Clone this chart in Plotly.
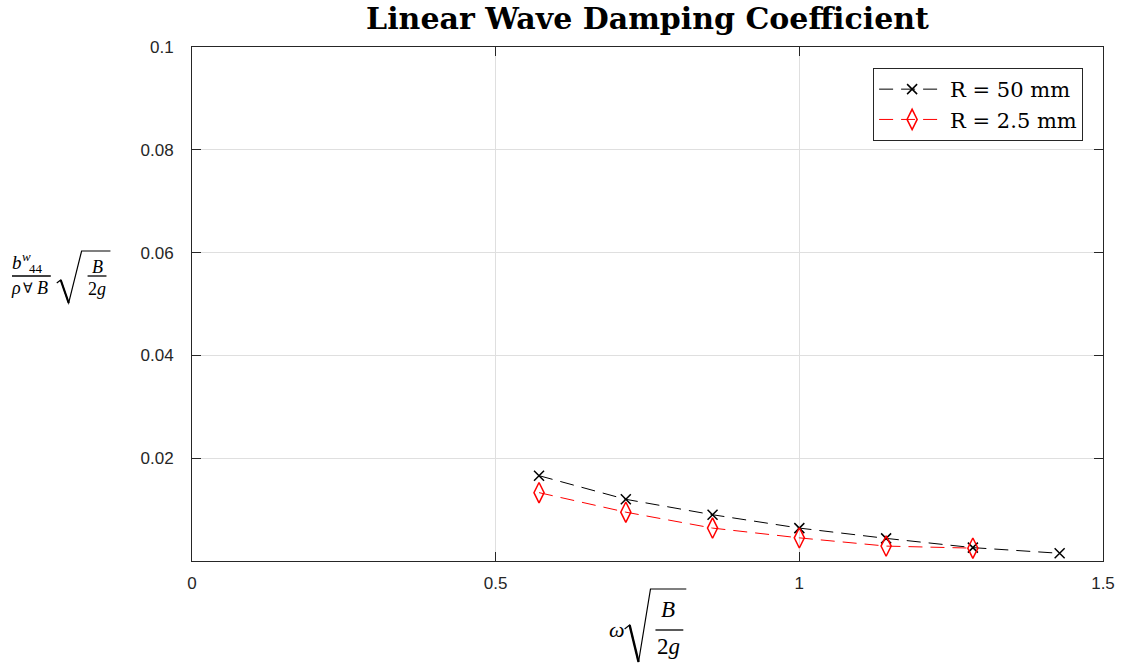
import plotly.graph_objects as go

# Non-dimensional frequency  omega*sqrt(B/2g)
freq_50 = [0.5714, 0.7143, 0.8571, 1.0000, 1.1429, 1.2857, 1.4286]
freq_25 = [0.5714, 0.7143, 0.8571, 1.0000, 1.1429, 1.2857]

# Non-dimensional linear wave damping coefficient
damp_50 = [0.0166, 0.0120, 0.0090, 0.0064, 0.0044, 0.0026, 0.0015]
damp_25 = [0.0133, 0.0095, 0.0064, 0.0045, 0.0029, 0.0025]

x_ticks = [0, 0.5, 1, 1.5]
x_tick_text = ["0", "0.5", "1", "1.5"]
y_ticks = [0.02, 0.04, 0.06, 0.08, 0.1]
y_tick_text = ["0.02", "0.04", "0.06", "0.08", "0.1"]

W, H = 1127, 665
L, R, T, B = 192, 19, 47, 104
PW, PH = W - L - R, H - T - B

AX = "#262626"
GRID = "#dfdfdf"
SERIF = "DejaVu Serif"
MATH = "Liberation Serif"


def px(x):
    return (x - L) / PW


def py(y):
    return (H - B - y) / PH


fig = go.Figure()

fig.add_trace(go.Scatter(
    x=freq_50, y=damp_50, mode="lines+markers", name="R = 50 mm",
    line=dict(color="black", width=1, dash="14px,8px"),
    marker=dict(symbol="x-thin", size=10, color="black",
                line=dict(color="black", width=1.5)),
))
fig.add_trace(go.Scatter(
    x=freq_25, y=damp_25, mode="lines+markers", name="R = 2.5 mm",
    line=dict(color="red", width=1, dash="14px,8px"),
    marker=dict(symbol="diamond-tall-open", size=14.5, color="red",
                line=dict(color="red", width=1.5)),
))

axis_common = dict(
    showline=True, linecolor=AX, linewidth=1, mirror="ticks",
    ticks="inside", ticklen=9, tickcolor=AX, tickwidth=1,
    showgrid=True, gridcolor=GRID, gridwidth=1, zeroline=False,
    tickfont=dict(family="Liberation Sans, Arial", size=17, color=AX),
)

fig.update_xaxes(range=[0, 1.5], tickvals=x_ticks, ticktext=x_tick_text,
                 ticklabelstandoff=7, **axis_common)
fig.update_yaxes(range=[0, 0.1], tickvals=y_ticks, ticktext=y_tick_text,
                 ticklabelstandoff=14, **axis_common)

ann = []


def text(x, y, s, size, family=MATH, italic=True, color="black"):
    if italic:
        s = "<i>" + s + "</i>"
    ann.append(dict(x=px(x), y=py(y), xref="paper", yref="paper", text=s,
                    showarrow=False, xanchor="center", yanchor="middle",
                    font=dict(family=family, size=size, color=color)))


shapes = []


def hline(x0, x1, y, w=1.3):
    shapes.append(dict(type="line", xref="paper", yref="paper",
                       x0=px(x0), x1=px(x1), y0=py(y), y1=py(y),
                       line=dict(color="black", width=w)))


def radical(pts, w=1.2):
    path = "M" + " L".join(f"{px(a):.5f},{py(b):.5f}" for a, b in pts)
    shapes.append(dict(type="path", xref="paper", yref="paper", path=path,
                       line=dict(color="black", width=w)))


# y-axis label:  b^w_44 / (rho forall B) * sqrt(B / 2g)
text(16.5, 262, "b", 19)
text(25.5, 256, "w", 13)
text(35, 268, "44", 13, italic=False)
hline(11, 50, 276)
text(15.5, 288, "ρ", 18)
text(27, 288, "∀", 14, family="DejaVu Sans", italic=False)
text(42, 288, "B", 18)
radical([(56, 283), (60, 280), (68, 303), (81, 251), (110, 251)])
radical([(60, 280), (68, 303)], w=2.2)
text(96.5, 267, "B", 18)
hline(87, 106, 276)
text(96.5, 289, "2<i>g</i>", 18, italic=False)

# x-axis label:  omega * sqrt(B / 2g)
text(619, 629, "ω", 22)
radical([(627, 629), (632, 625), (641, 662), (653, 589), (689, 589)])
radical([(632, 625), (641, 662)], w=2.4)
text(671, 609, "B", 23)
hline(658, 686, 630)
text(671, 646, "2<i>g</i>", 23, italic=False)

fig.update_layout(
    width=W, height=H,
    margin=dict(l=L, r=R, t=T, b=B, pad=0),
    paper_bgcolor="white", plot_bgcolor="white",
    title=dict(text="<b>Linear Wave Damping Coefficient</b>",
               xref="paper", x=0.5, xanchor="center",
               yref="container", y=1 - 18 / H, yanchor="middle",
               font=dict(family=SERIF, size=30, color="black")),
    legend=dict(x=px(1088), xanchor="right", y=py(68), yanchor="top",
                bgcolor="white", bordercolor=AX, borderwidth=1,
                font=dict(family=SERIF, size=21, color="black"),
                itemwidth=66, tracegroupgap=0),
    showlegend=True,
    annotations=ann,
    shapes=shapes,
)

fig.write_html("out.html")
